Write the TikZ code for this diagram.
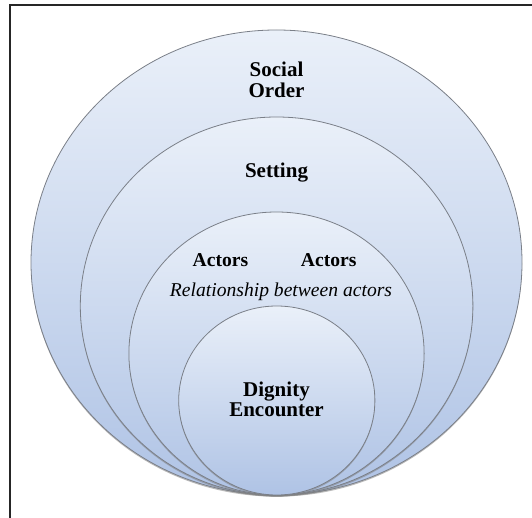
\documentclass[tikz,border=0pt]{standalone}
\usepackage{fontspec}
\setmainfont{Liberation Serif}
\usetikzlibrary{shapes.geometric,shadows}

\definecolor{ringtop}{HTML}{EAF0F9}
\definecolor{ringbot}{HTML}{AFC3E5}
\definecolor{ringedge}{HTML}{7A7F88}

\tikzset{
    ring/.style={ellipse, draw=ringedge, line width=0.8pt, inner sep=0pt,
        top color=ringtop, bottom color=ringbot,
        drop shadow={shadow xshift=0pt, shadow yshift=-1.6pt, opacity=0.55}},
    bigtext/.style={font=\fontsize{21}{20.5}\selectfont\bfseries, align=center, inner sep=0pt},
    smalltext/.style={font=\fontsize{19.6}{20}\selectfont, inner sep=0pt}
}

\begin{document}
\begin{tikzpicture}[x=1pt, y=-1pt]
    \useasboundingbox (0,0) rectangle (532,518);

    % Frame
    \draw[line width=2pt, black!85] (10,518) -- (10,5) -- (532,5);

    % Define the circles
    \node[ring, minimum width=491pt, minimum height=465pt] (order) at (276.5,262.5) {};
    \node[ring, minimum width=392.6pt, minimum height=378pt] (setting) at (276.6,306) {};
    \node[ring, minimum width=295.2pt, minimum height=283pt] (actors) at (276.5,353.5) {};
    \node[ring, minimum width=196.2pt, minimum height=189pt] (encounter) at (276.8,400.5) {};

    % Add the labels
    \node[bigtext] (orderlabel) at (276.5,80) {Social\\Order};
    \node[bigtext, anchor=base] (settinglabel) at (276.5,178) {Setting};
    \node[smalltext, font=\fontsize{19.6}{20}\selectfont\bfseries, anchor=base] (actorA) at (220.5,266.7) {Actors};
    \node[smalltext, font=\fontsize{19.6}{20}\selectfont\bfseries, anchor=base] (actorB) at (328.7,266.7) {Actors};
    \node[smalltext, font=\fontsize{19.6}{20}\selectfont\itshape, anchor=base] (relation) at (281,296.5) {Relationship between actors};
    \node[bigtext] (encounterlabel) at (276.5,399.5) {Dignity\\Encounter};
\end{tikzpicture}
\end{document}
